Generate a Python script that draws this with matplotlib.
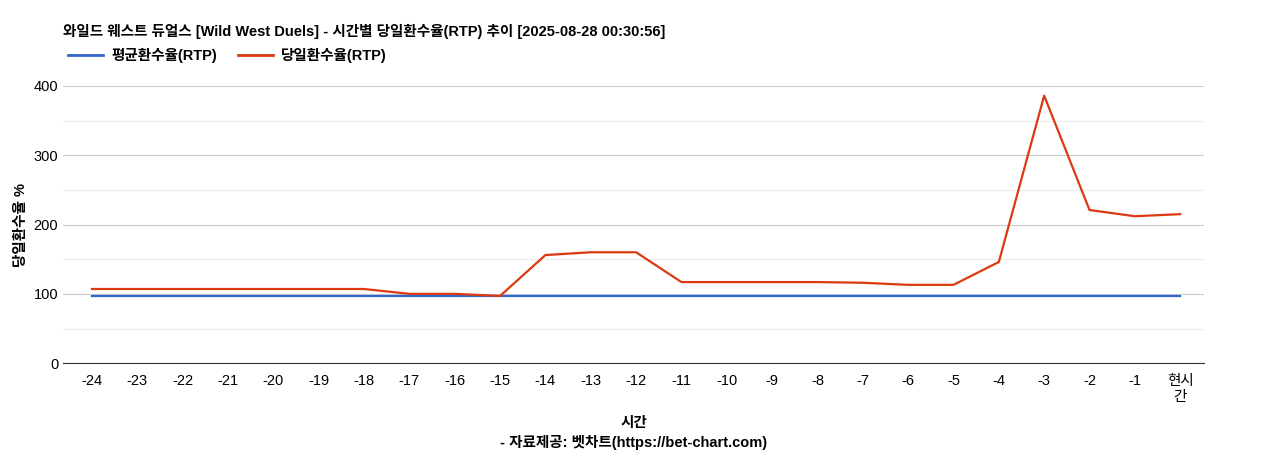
import matplotlib

matplotlib.use("Agg")
import matplotlib.pyplot as plt
from matplotlib.lines import Line2D

plt.rcParams["font.family"] = ["Liberation Sans", "Noto Sans CJK KR", "DejaVu Sans"]

HOURS = [str(h) for h in range(-24, 0)] + ["현시\n간"]
AVG_RTP = [96.5] * 25
DAY_RTP = [107, 107, 107, 107, 107, 107, 107, 100, 100, 97, 156, 160, 160,
           117, 117, 117, 117, 116, 113, 113, 146, 386, 221, 212, 215]

fig = plt.figure(figsize=(12.68, 4.5), dpi=100)
ax = fig.add_axes([0.0497, 0.193, 0.9, 0.616])
x = range(len(HOURS))
ax.plot(x, AVG_RTP, color="#3366cc", linewidth=1.6)
ax.plot(x, DAY_RTP, color="#dc3912", linewidth=1.6)
ax.set_xlim(-0.64, 24.53)
ax.set_ylim(0, 400)
ax.set_yticks([0, 100, 200, 300, 400])
ax.set_yticks([50, 150, 250, 350], minor=True)
ax.grid(axis="y", which="major", color="#cccccc", linewidth=0.8)
ax.grid(axis="y", which="minor", color="#ebebeb", linewidth=0.8)
ax.set_axisbelow(True)
ax.set_xticks(list(x), HOURS, fontsize=10.5)
ax.tick_params(axis="y", labelsize=10.5, length=0)
ax.tick_params(axis="x", length=0, pad=8)
ax.tick_params(axis="y", which="minor", length=0)
for s in ("top", "right", "left"):
    ax.spines[s].set_visible(False)
ax.spines["bottom"].set_color("#333333")
ax.set_xlabel("시간\n- 자료제공: 벳차트(https://bet-chart.com)", fontsize=10.5,
              fontweight="bold", labelpad=8, linespacing=1.45)
ax.set_ylabel("당일환수율 %", fontsize=10.5, fontweight="bold")

fig.text(0.0497, 0.93, "와일드 웨스트 듀얼스 [Wild West Duels] - 시간별 당일환수율(RTP) 추이 [2025-08-28 00:30:56]",
         fontsize=10.5, fontweight="bold", va="center")
handles = [Line2D([], [], color="#3366cc", linewidth=2),
           Line2D([], [], color="#dc3912", linewidth=2)]
fig.legend(handles, ["평균환수율(RTP)", "당일환수율(RTP)"], loc="center left",
           bbox_to_anchor=(0.043, 0.877), ncol=2, frameon=False,
           prop={"weight": "bold", "size": 10.5}, handlelength=2.4,
           handletextpad=0.6, columnspacing=1.4)

fig.savefig("out.png", dpi=100)
